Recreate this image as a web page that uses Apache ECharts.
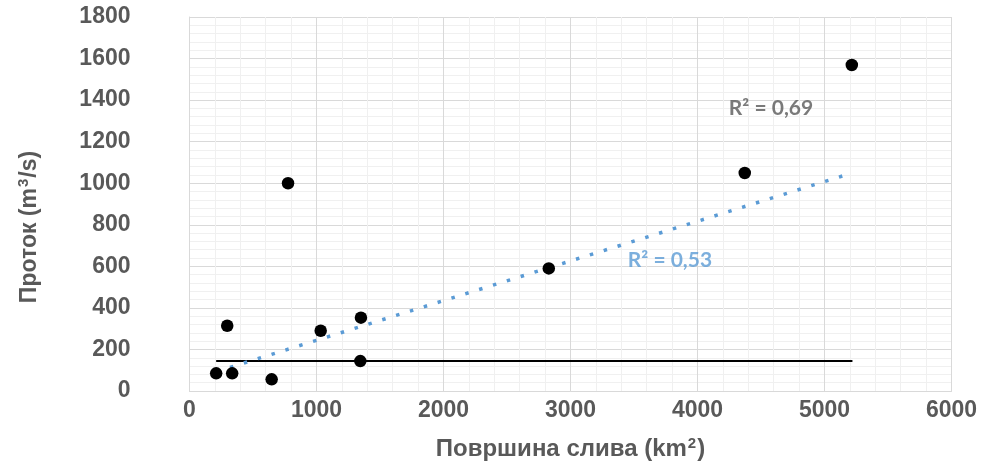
<!DOCTYPE html>
<html lang="sr">
<head>
    <meta charset="UTF-8">
    <title>Проток / површина слива</title>
    <script src="https://cdn.jsdelivr.net/npm/echarts@6/dist/echarts.min.js"></script>
    <style>
        html, body { margin: 0; padding: 0; background: #fff; }
        #chart { width: 981px; height: 461px; }
    </style>
</head>
<body>
<div id="chart"></div>
<script>
    // површина слива (km2) и проток (m3/s) -- очитано са слике
    var areaKm2 = [210, 336, 297, 647, 1033, 1350, 1345, 776, 2829, 4372, 5215];
    var flowM3s = [85, 85, 314, 56, 290, 353, 144, 1000, 590, 1049, 1569];

    // линеарни тренд (плави, тачкасти)
    var trendX = [210, 5215];
    var trendY = [93, 1049];
    // црна хоризонтална линија
    var flatX = [210, 5220];
    var flatY = [144, 144];

    // натписи R²
    var r2Text = ['R² = 0,69', 'R² = 0,53'];
    var r2X = [4579, 3783];
    var r2Y = [1362, 630];

    var xTicks = [0, 1000, 2000, 3000, 4000, 5000, 6000];
    var yTicks = [0, 200, 400, 600, 800, 1000, 1200, 1400, 1600, 1800];

    function pairs(xs, ys) {
        var out = [];
        for (var i = 0; i < xs.length; i++) {
            out.push([xs[i], ys[i]]);
        }
        return out;
    }

    var gray = '#595959';
    var arial = '"Liberation Sans", Arial, sans-serif';
    var chart = echarts.init(document.getElementById('chart'), null, {renderer: 'canvas'});

    var axisFont = {
        color: gray,
        fontFamily: arial,
        fontWeight: 'bold',
        fontSize: 23,
        formatter: function (v) { return String(v); }   // без зареза за хиљаде
    };
    var supStyle = { fontSize: 15, fontWeight: 'bold', color: gray, fontFamily: arial,
        verticalAlign: 'top', padding: [0, 1, 12, 1] };

    chart.setOption({
        animation: false,
        grid: { left: 189.5, right: 29.5, top: 17, bottom: 70, outerBoundsMode: 'none' },
        xAxis: {
            type: 'value',
            min: xTicks[0],
            max: xTicks[xTicks.length - 1],
            interval: 1000,
            name: 'Површина слива (km{sup|2})',
            nameLocation: 'middle',
            nameGap: 45,
            nameTextStyle: {
                color: gray, fontFamily: arial, fontWeight: 'bold', fontSize: 24,
                rich: { sup: supStyle }
            },
            axisLine: { show: true, lineStyle: { color: '#d9d9d9', width: 1 } },
            axisTick: { show: false },
            axisLabel: Object.assign({ margin: 8 }, axisFont),
            splitLine: { show: true, lineStyle: { color: '#d9d9d9', width: 1 } },
            minorTick: { show: false, splitNumber: 5 },
            minorSplitLine: { show: true, lineStyle: { color: '#f0f0f0', width: 1 } }
        },
        yAxis: {
            type: 'value',
            min: yTicks[0],
            max: yTicks[yTicks.length - 1],
            interval: 200,
            name: 'Проток (m{sup|3}/s)',
            nameLocation: 'middle',
            nameGap: 146,
            nameTextStyle: {
                color: gray, fontFamily: arial, fontWeight: 'bold', fontSize: 23,
                padding: [0, 46, 0, 0],
                rich: { sup: supStyle }
            },
            axisLine: { show: true, lineStyle: { color: '#d9d9d9', width: 1 } },
            axisTick: { show: false },
            axisLabel: Object.assign({ margin: 59 }, axisFont),
            splitLine: { show: true, lineStyle: { color: '#d9d9d9', width: 1 } },
            minorTick: { show: false, splitNumber: 5 },
            minorSplitLine: { show: true, lineStyle: { color: '#f0f0f0', width: 1 } }
        },
        series: [
            {
                name: 'флат',
                type: 'line',
                data: pairs(flatX, flatY),
                symbol: 'none',
                lineStyle: { color: '#000', width: 2 },
                z: 3
            },
            {
                name: 'тренд',
                type: 'line',
                data: pairs(trendX, trendY),
                symbol: 'none',
                lineStyle: { color: '#5b9bd5', width: 3.5, type: [3.5, 11], cap: 'butt' },
                z: 3
            },
            {
                name: 'мерења',
                type: 'scatter',
                data: pairs(areaKm2, flowM3s),
                symbol: 'circle',
                symbolSize: 12.5,
                itemStyle: { color: '#000', opacity: 1 },
                z: 4
            },
            {
                name: 'R2',
                type: 'scatter',
                symbolSize: 0,
                silent: true,
                data: pairs(r2X, r2Y).map(function (p, i) {
                    return {
                        value: p,
                        label: {
                            show: true,
                            position: 'inside',
                            formatter: r2Text[i],
                            fontFamily: 'Lato, "Open Sans", sans-serif',
                            fontWeight: 'bold',
                            fontSize: 21,
                            color: i === 0 ? gray : '#5b9bd5'
                        }
                    };
                }),
                z: 5
            }
        ]
    });
</script>
</body>
</html>
